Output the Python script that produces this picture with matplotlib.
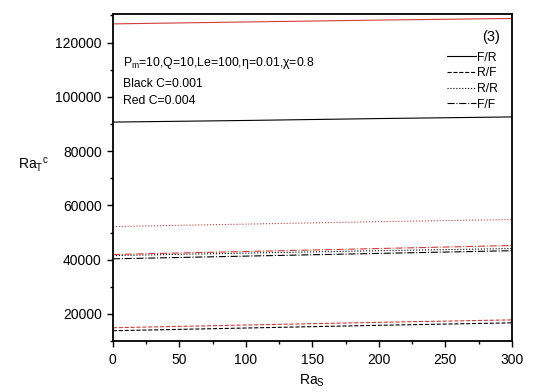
import matplotlib.pyplot as plt

plt.rcParams['font.family'] = ['Liberation Sans', 'DejaVu Sans']
plt.rcParams['mathtext.fontset'] = 'custom'
plt.rcParams['mathtext.rm'] = 'Liberation Sans'
plt.rcParams['mathtext.it'] = 'Liberation Sans'

ra_s = [0, 100, 200, 300]

# black C=0.001
black_fr = [90700, 91300, 92000, 92600]
black_rf = [13800, 14800, 15800, 16700]
black_rr = [41500, 42400, 43300, 44100]
black_ff = [40300, 41300, 42300, 43300]

# red C=0.004
red_fr = [126900, 127600, 128300, 128900]
red_rf = [14900, 15900, 16900, 17800]
red_rr = [52200, 53100, 54000, 54800]
red_ff = [41900, 43000, 44100, 45200]

labels = ["F/R", "R/F", "R/R", "F/F"]
styles = ["-", "--", ":", "-."]


def main():
    fig = plt.figure(figsize=(5.4, 3.92), dpi=100)
    ax = fig.add_axes([0.209, 0.130, 0.739, 0.834])

    blacks = [black_fr, black_rf, black_rr, black_ff]
    reds = [red_fr, red_rf, red_rr, red_ff]
    for vals, ls, lab in zip(blacks, styles, labels):
        ax.plot(ra_s, vals, color="black", linestyle=ls, linewidth=0.8, label=lab)
    for vals, ls in zip(reds, styles):
        ax.plot(ra_s, vals, color="#d23c3c", linestyle=ls, linewidth=0.8)

    ax.set_xlim(0, 300)
    ax.set_ylim(10000, 130500)
    ax.set_xticks([0, 50, 100, 150, 200, 250, 300])
    ax.set_xticks(range(25, 300, 50), minor=True)
    ax.set_yticks([20000, 40000, 60000, 80000, 100000, 120000])
    ax.set_yticks([10000, 30000, 50000, 70000, 90000, 110000, 130000], minor=True)
    ax.tick_params(which="both", direction="out", labelsize=10, width=1)
    ax.tick_params(which="major", length=4.5)
    ax.tick_params(which="minor", length=2.5)
    ax.tick_params(axis="x", pad=4)
    for sp in ax.spines.values():
        sp.set_linewidth(1.3)

    ax.set_xlabel("Ra$_S$", fontsize=10, labelpad=4)
    ax.set_ylabel("Ra$_T$$^c$", fontsize=10, rotation=0, va="center")
    ax.yaxis.set_label_coords(-0.2, 0.54)

    ax.text(0.97, 0.93, "(3)", transform=ax.transAxes, ha="right", va="center", fontsize=10.5)
    ax.text(0.025, 0.85, "P$_m$=10,Q=10,Le=100,$\\eta$=0.01,$\\chi$=0.8",
            transform=ax.transAxes, fontsize=8.8, va="center")
    ax.text(0.025, 0.785, "Black C=0.001", transform=ax.transAxes, fontsize=8.7, va="center")
    ax.text(0.025, 0.735, "Red C=0.004", transform=ax.transAxes, fontsize=8.7, va="center")

    ax.legend(loc="upper right", bbox_to_anchor=(0.966, 0.885), frameon=False,
              fontsize=8.7, handlelength=2.4, handletextpad=0.15, labelspacing=0.3,
              borderaxespad=0.0, borderpad=0.0)

    fig.savefig("out.png", dpi=100)


if __name__ == "__main__":
    main()
